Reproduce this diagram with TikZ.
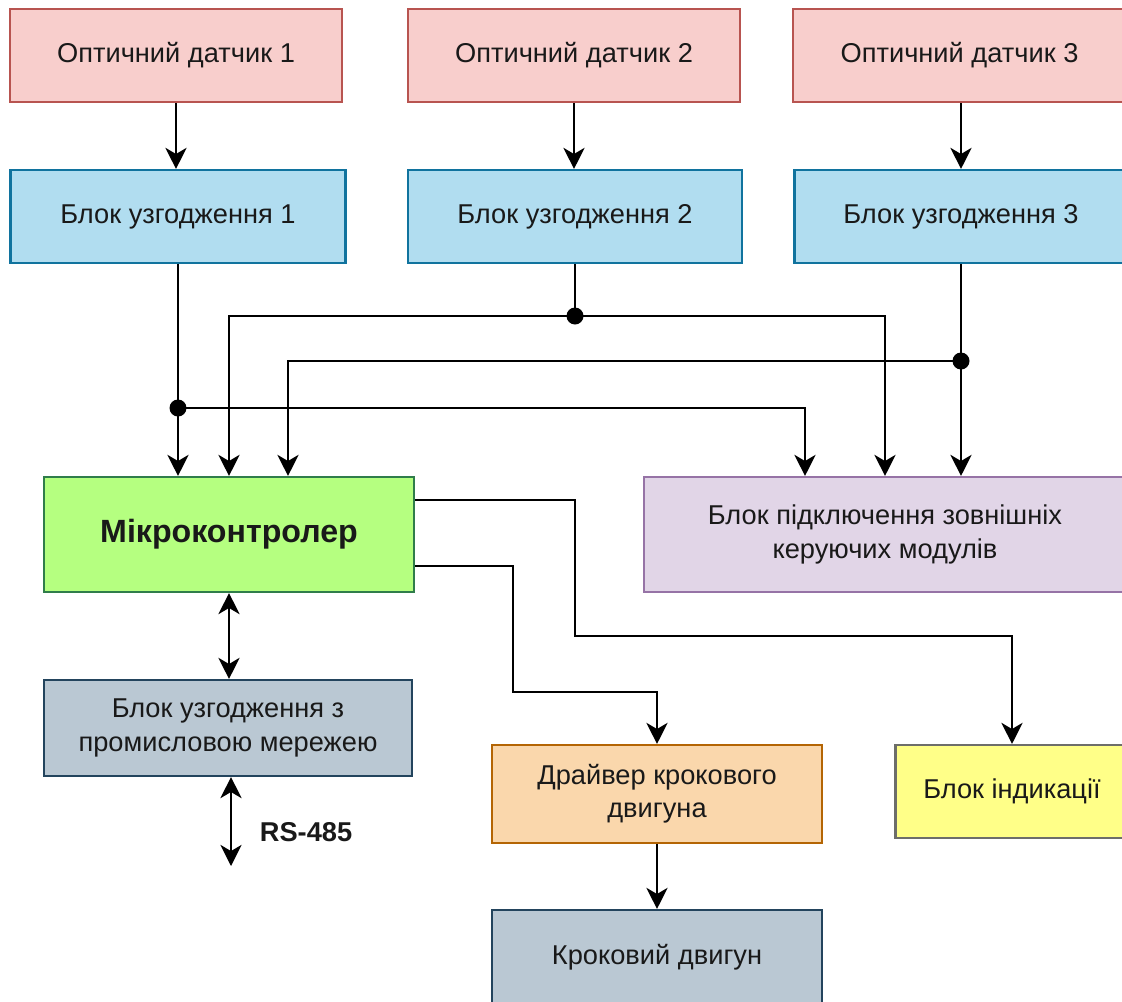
\documentclass[tikz,border=0pt]{standalone}
\usepackage{fontspec}
\setmainfont{Liberation Sans}
\usetikzlibrary{arrows.meta}

\definecolor{sensfill}{HTML}{F8CECC}
\definecolor{sensline}{HTML}{B85450}
\definecolor{blkfill}{HTML}{B1DDF0}
\definecolor{blkline}{HTML}{10739E}
\definecolor{mcufill}{HTML}{B5FF80}
\definecolor{mculine}{HTML}{2F7D4A}
\definecolor{extfill}{HTML}{E1D5E7}
\definecolor{extline}{HTML}{9673A6}
\definecolor{netfill}{HTML}{BAC8D3}
\definecolor{netline}{HTML}{23445D}
\definecolor{drvfill}{HTML}{FAD7AC}
\definecolor{drvline}{HTML}{B46504}
\definecolor{indfill}{HTML}{FFFF88}
\definecolor{indline}{HTML}{6D6E6A}

\begin{document}
\begin{tikzpicture}[x=0.02cm, y=-0.02cm, line width=1.2pt,
    font=\fontsize{15.5}{19}\selectfont, text=black!90,
    >={Stealth[length=12pt,width=12pt,inset=3.5pt]},
    box/.style={draw, align=center, inner sep=0pt},
    arr/.style={->, line width=1.5pt},
    biarr/.style={<->, line width=1.5pt},
    wire/.style={line width=1.5pt},
    dot/.style={fill=black, circle, inner sep=0pt, minimum size=0.34cm}]

    \useasboundingbox (0,0) rectangle (1122,1001);

    % sensors
    \node[box, fill=sensfill, draw=sensline, minimum width=6.64cm, minimum height=1.86cm] (s1) at (176,55.5) {Оптичний датчик 1};
    \node[box, fill=sensfill, draw=sensline, minimum width=6.64cm, minimum height=1.86cm] (s2) at (574,55.5) {Оптичний датчик 2};
    \node[box, fill=sensfill, draw=sensline, minimum width=6.66cm, minimum height=1.86cm] (s3) at (959.5,55.5) {Оптичний датчик 3};

    % matching blocks
    \node[box, fill=blkfill, draw=blkline, minimum width=6.7cm, minimum height=1.86cm] (b1) at (178,216.5) {Блок узгодження 1};
    \node[box, fill=blkfill, draw=blkline, minimum width=6.68cm, minimum height=1.86cm] (b2) at (575,216.5) {Блок узгодження 2};
    \node[box, fill=blkfill, draw=blkline, minimum width=6.66cm, minimum height=1.86cm] (b3) at (961,216.5) {Блок узгодження 3};

    % controller and external modules
    \node[box, fill=mcufill, draw=mculine, minimum width=7.4cm, minimum height=2.3cm, font=\fontsize{18.3}{22}\selectfont\bfseries] (mcu) at (229,534.5) {Мікроконтролер};
    \node[box, fill=extfill, draw=extline, minimum width=9.64cm, minimum height=2.3cm] (ext) at (885,534.5) {Блок підключення зовнішніх\\керуючих модулів};

    % lower blocks
    \node[box, fill=netfill, draw=netline, minimum width=7.36cm, minimum height=1.92cm] (net) at (228,728) {Блок узгодження з\\промисловою мережею};
    \node[box, fill=drvfill, draw=drvline, minimum width=6.6cm, minimum height=1.96cm] (drv) at (657,794) {Драйвер крокового\\двигуна};
    \node[box, fill=indfill, draw=indline, minimum width=4.66cm, minimum height=1.86cm] (ind) at (1012,791.5) {Блок індикації};
    \node[box, fill=netfill, draw=netline, minimum width=6.6cm, minimum height=1.9cm] (mot) at (657,957.5) {Кроковий двигун};

    % sensors to matching blocks
    \draw[arr] (s1.south) -- (s1.south |- b1.north);
    \draw[arr] (s2.south) -- (s2.south |- b2.north);
    \draw[arr] (b3.north |- s3.south) -- (b3.north);

    % junctions
    \coordinate (j1) at (b1.south |- 0,408);
    \coordinate (j2) at (b2.south |- 0,316);
    \coordinate (j3) at (b3.south |- 0,361);

    \draw[arr] (b1.south) -- (b1.south |- mcu.north);
    \draw[arr] (j1) -| (805,0 |- ext.north);
    \draw[wire] (b2.south) -- (j2);
    \draw[arr] (j2) -| (mcu.north);
    \draw[arr] (j2) -| (ext.north);
    \draw[wire] (b3.south) -- (j3);
    \draw[arr] (j3) -| (288,0 |- mcu.north);
    \draw[arr] (j3) -- (j3 |- ext.north);

    \node[dot] at (j1) {};
    \node[dot] at (j2) {};
    \node[dot] at (j3) {};

    % controller outputs
    \draw[arr] (mcu.east |- 0,500) -| (575,636) -| (ind.north);
    \draw[arr] (mcu.east |- 0,566) -| (513,692) -| (drv.north);
    \draw[biarr] (mcu.south) -- (mcu.south |- net.north);
    \draw[arr] (drv.south) -- (mot.north);

    % field bus
    \coordinate (bus) at (231,866);
    \draw[biarr] (net.south -| bus) -- (bus);
    \node[font=\fontsize{15.5}{19}\selectfont\bfseries, anchor=west] (rs) at (253,832) {RS-485};

\end{tikzpicture}
\end{document}
